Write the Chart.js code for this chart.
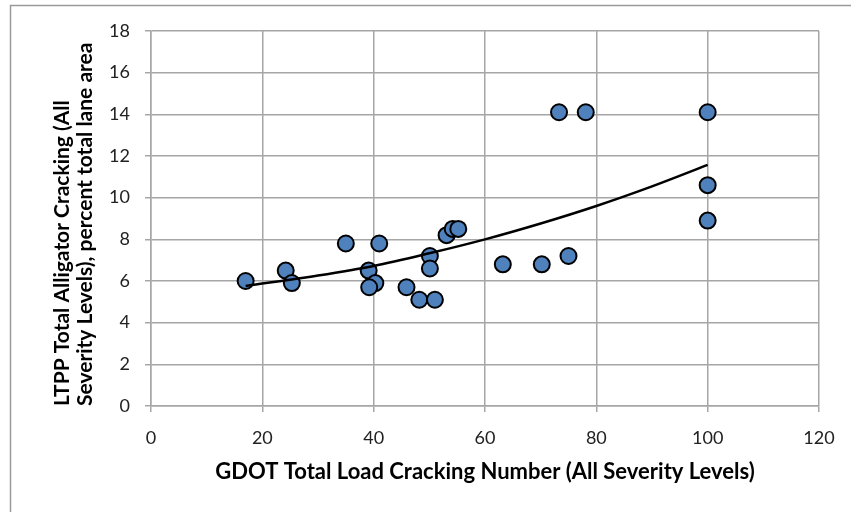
<!DOCTYPE html>
<html>
<head>
<meta charset="utf-8">
<script src="https://cdn.jsdelivr.net/npm/chart.js@4/dist/chart.umd.min.js"></script>
<style>
    html, body { margin: 0; padding: 0; background: #fff; }
    canvas { display: block; }
</style>
</head>
<body>
<canvas id="cracking" width="851" height="512"></canvas>
<script>
// GDOT load cracking number vs LTPP alligator cracking, one point per section
var gdotNumber = [17, 24.2, 25.3, 35, 41, 39.1, 40.3, 39.2, 45.9, 48.2, 51, 50.1, 50.1, 53.1, 54.2, 55.2, 63.2, 70.2, 75, 73.3, 78.1, 100, 100, 100];
var ltppPercent = [6.0, 6.5, 5.9, 7.8, 7.8, 6.5, 5.9, 5.7, 5.7, 5.1, 5.1, 7.2, 6.6, 8.2, 8.5, 8.5, 6.8, 6.8, 7.2, 14.1, 14.1, 14.1, 10.6, 8.9];

// trend line read along its length
var trendX = [17, 30, 40, 50, 60, 70, 80, 90, 100];
var trendY = [5.76, 6.26, 6.72, 7.33, 8.0, 8.76, 9.6, 10.54, 11.57];

var xTicks = [0, 20, 40, 60, 80, 100, 120];
var yTicks = [0, 2, 4, 6, 8, 10, 12, 14, 16, 18];

var xTitle = 'GDOT Total Load Cracking Number (All Severity Levels)';
var yTitle = ['LTPP Total Alligator Cracking (All', 'Severity Levels), percent total lane area'];

function toPoints(xs, ys) {
    var pts = [];
    xs.forEach(function(x, i) {
        pts.push({x: x, y: ys[i]});
    });
    return pts;
}

// thin grey frame around the whole figure
var framePlugin = {
    id: 'frame',
    beforeDraw: function(chart) {
        var ctx = chart.ctx;
        ctx.save();
        ctx.fillStyle = '#fff';
        ctx.fillRect(0, 0, chart.width, chart.height);
        ctx.strokeStyle = '#9a9a9a';
        ctx.lineWidth = 1.5;
        ctx.strokeRect(10.5, 5.5, chart.width + 20, chart.height + 20);
        ctx.restore();
    }
};

var tickFont = {family: 'Lato', size: 18};

var ctx = document.getElementById('cracking');
var crackChart = new Chart(ctx, {
    type: 'scatter',
    data: {
        datasets: [{
            type: 'line',
            data: toPoints(trendX, trendY),
            borderColor: '#000',
            borderWidth: 2.5,
            pointRadius: 0,
            fill: false,
            cubicInterpolationMode: 'monotone',
            order: 0
        }, {
            data: toPoints(gdotNumber, ltppPercent),
            backgroundColor: '#4f81bd',
            borderColor: '#000',
            borderWidth: 2,
            pointRadius: 8,
            order: 1
        }]
    },
    options: {
        responsive: false,
        animation: false,
        layout: {
            padding: {left: 0, top: 31, right: 32, bottom: 0}
        },
        plugins: {
            legend: {display: false},
            tooltip: {enabled: false}
        },
        scales: {
            x: {
                type: 'linear',
                min: 0,
                max: 120,
                afterBuildTicks: function(scale) {
                    scale.ticks = xTicks.map(function(v) { return {value: v}; });
                },
                afterFit: function(scale) {
                    scale.height = 106;
                },
                grid: {color: '#a6a6a6', lineWidth: 1.5, tickLength: 6},
                border: {color: '#a6a6a6', width: 1.5},
                ticks: {font: tickFont, color: '#222', padding: 15, maxRotation: 0},
                title: {
                    display: true, text: xTitle, color: '#000',
                    font: {family: 'Lato', size: 22, weight: 'bold', lineHeight: 1.2},
                    padding: {top: 0, bottom: 27}
                }
            },
            y: {
                type: 'linear',
                min: 0,
                max: 18,
                afterBuildTicks: function(scale) {
                    scale.ticks = yTicks.map(function(v) { return {value: v}; });
                },
                afterFit: function(scale) {
                    scale.width = 151;
                },
                grid: {color: '#a6a6a6', lineWidth: 1.5, tickLength: 6},
                border: {color: '#a6a6a6', width: 1.5},
                ticks: {font: tickFont, color: '#222', padding: 15},
                title: {
                    display: true, text: yTitle, color: '#000', align: 'start',
                    font: {family: 'Lato', size: 21, weight: 'bold', lineHeight: 1.1},
                    padding: {top: 51, bottom: 0}
                }
            }
        }
    },
    plugins: [framePlugin]
});
</script>
</body>
</html>
